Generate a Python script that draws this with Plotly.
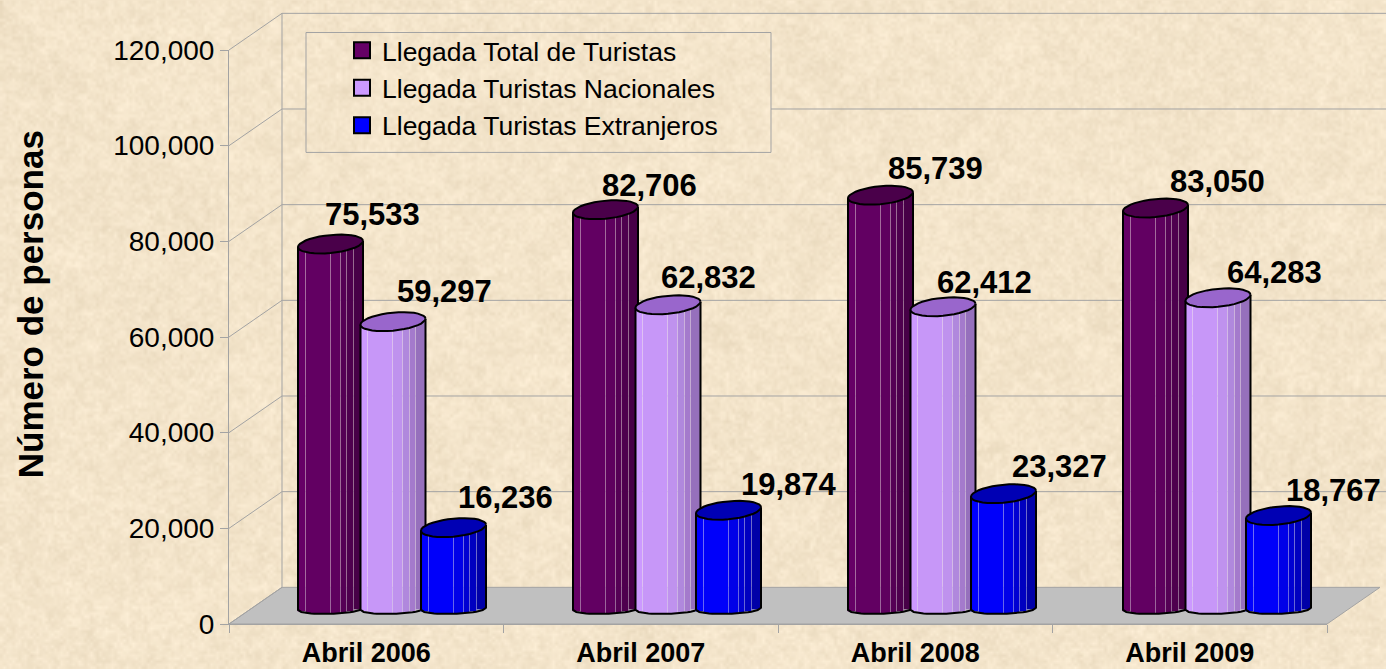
import base64, math, struct, zlib
import numpy as np
import plotly.graph_objects as go

# ---------- data ----------
categories = ["Abril 2006", "Abril 2007", "Abril 2008", "Abril 2009"]
total_turistas = [75533, 82706, 85739, 83050]
nacionales = [59297, 62832, 62412, 64283]
extranjeros = [16236, 19874, 23327, 18767]
series_names = ["Llegada Total de Turistas", "Llegada Turistas Nacionales", "Llegada Turistas Extranjeros"]
y_ticks = [0, 20000, 40000, 60000, 80000, 100000, 120000]
y_title = "Número de personas"

# ---------- style ----------
W, H = 1386, 669
X0, X1, Y0, Y1 = 229, 1327, 624, 49.5          # front plot box in pixels
DX, DY = 53, 36.7                               # depth of the 3-D box
PX_PER_UNIT = (Y0 - Y1) / 120000
GROUP_PX = 275
FIRST_GROUP_PX = 391
BASE_PX = 605.3
BAR_PX = 65
SERIES_OFF_PX = [-60.5, 2, 62.5]
FACET_EDGES = [0, .12, .5, .66, .76, .86, 1]
FACET_COLORS = [
    ["#660066", "#620062", "#5E005E", "#550055", "#4E004E", "#470047"],
    ["#CC99FF", "#C797F8", "#BF92EE", "#B088DD", "#A47ACC", "#9670BC"],
    ["#0000FF", "#0000FA", "#0000E8", "#0000D2", "#0000C0", "#0000A8"],
]
CAP_COLORS = ["#4A004A", "#9966CC", "#0000B4"]
LEGEND_COLORS = ["#660066", "#CC99FF", "#0000FF"]
GRID = "#A3A3A3"
FONT = "Liberation Sans, Arial, sans-serif"
# label shift from the bar-top centre, in pixels
LABEL_SHIFT = [
    [(42, 30), (44, 24), (55, 27), (62, 27)],
    [(51, 30), (40, 27), (41, 24), (56, 25)],
    [(52, 30), (60, 26), (56, 27), (55, 25)],
]


def background_uri():
    """Soft parchment mottling, as a small PNG data URI."""
    w, h = 462, 223
    yy, xx = np.mgrid[0:h, 0:w].astype(float)
    def cells(n):
        gy, gx = np.mgrid[0:h // n + 2, 0:w // n + 2].astype(float)
        v = np.sin(gx * 12.9898 + gy * 78.233) * 43758.5453
        v = v - np.floor(v)
        fx, fy = xx / n, yy / n
        ix, iy = fx.astype(int), fy.astype(int)
        tx, ty = fx - ix, fy - iy
        return (v[iy, ix] * (1 - tx) * (1 - ty) + v[iy, ix + 1] * tx * (1 - ty)
                + v[iy + 1, ix] * (1 - tx) * ty + v[iy + 1, ix + 1] * tx * ty) - .5
    m = 0.25 * cells(12) + 0.4 * cells(5) + 0.7 * cells(2) + 0.8 * cells(1)
    base = np.array([244, 229, 203], float)
    img = base[None, None, :] + m[..., None] * np.array([12, 13, 15], float)
    img = np.clip(img, 0, 255).astype(np.uint8)
    raw = b"".join(b"\0" + img[r].tobytes() for r in range(h))
    def chunk(t, d):
        return struct.pack(">I", len(d)) + t + d + struct.pack(">I", zlib.crc32(t + d))
    png = (b"\x89PNG\r\n\x1a\n" + chunk(b"IHDR", struct.pack(">IIBBBBB", w, h, 8, 2, 0, 0, 0))
           + chunk(b"IDAT", zlib.compress(raw, 9)) + chunk(b"IEND", b""))
    return "data:image/png;base64," + base64.b64encode(png).decode()


def px(x):
    return (x - X0) / (X1 - X0)


def py(y):
    return (Y0 - y) / (Y0 - Y1)


fig = go.Figure()

# invisible traces: carry the category axis and the legend entries
for name, col in zip(series_names, LEGEND_COLORS):
    fig.add_trace(go.Scatter(x=categories, y=[None] * len(categories), mode="markers", name=name,
                             legendgroup=name, hoverinfo="skip",
                             marker=dict(symbol="square", size=16, color=col, line=dict(color="black", width=2))))

hw = BAR_PX / 2 / GROUP_PX                       # half bar width in category units
cap_h = 9 / PX_PER_UNIT                          # half height of top ellipse
shear = 3 / PX_PER_UNIT                          # tilt of ellipses
bot_h = 5 / PX_PER_UNIT
bot_off = 3.5 / PX_PER_UNIT


def bottom_curve(u):
    return -bot_off - bot_h * math.sqrt(max(0, 1 - u * u)) + shear * 0.35 * u


all_values = [total_turistas, nacionales, extranjeros]
annotations = [dict(text=y_title, xref="paper", yref="paper", x=px(30), y=py(304), textangle=-90,
                    showarrow=False, xanchor="center", yanchor="middle",
                    font=dict(family=FONT, size=35, color="black", weight="bold"))]
for s, values in enumerate(all_values):
    axis_n = s + 2
    xa, ya = f"x{axis_n}", f"y{axis_n}"
    off = SERIES_OFF_PX[s] / GROUP_PX
    idx = list(range(len(values)))
    for k in range(len(FACET_COLORS[s])):
        e0, e1 = FACET_EDGES[k], FACET_EDGES[k + 1]
        um = e0 + e1 - 1                          # facet centre in -1..1
        base = [bottom_curve(um)] * len(values)
        tops = [v + shear * um for v in values]
        fig.add_trace(go.Bar(
            x=idx, y=[t - b for t, b in zip(tops, base)], base=base, xaxis=xa, yaxis=ya,
            offset=off - hw + 2 * hw * e0, width=2 * hw * (e1 - e0), showlegend=False, hoverinfo="skip",
            marker=dict(color=FACET_COLORS[s][k], line=dict(color="rgba(255,255,255,.2)", width=1))))
    # silhouette and cap of every cylinder
    ox, oy, cx, cy = [], [], [], []
    for i, v in zip(idx, values):
        c = i + off
        us = [-1 + 2 * j / 20 for j in range(21)]
        ox += [c - hw] + [c + hw * u for u in us] + [c + hw, None]
        oy += [v - shear] + [bottom_curve(u) for u in us] + [v + shear, None]
        for j in range(37):
            t = 2 * math.pi * j / 36
            cx.append(c + hw * math.cos(t))
            cy.append(v + cap_h * math.sin(t) + shear * math.cos(t))
        cx.append(None)
        cy.append(None)
        dx_, dy_ = LABEL_SHIFT[s][i]
        annotations.append(dict(x=c, y=v, xref=xa, yref=ya, text=f"{v:,}", showarrow=False,
                                xshift=dx_, yshift=dy_, font=dict(family=FONT, size=31, color="black", weight="bold")))
    fig.add_trace(go.Scatter(x=ox, y=oy, xaxis=xa, yaxis=ya, mode="lines", showlegend=False, hoverinfo="skip",
                             line=dict(color="black", width=2)))
    fig.add_trace(go.Scatter(x=cx, y=cy, xaxis=xa, yaxis=ya, mode="lines", fill="toself", fillcolor=CAP_COLORS[s],
                             showlegend=False, hoverinfo="skip", line=dict(color="black", width=2)))

# ---------- 3-D box ----------
shapes = []


def line(x0, y0, x1, y1):
    shapes.append(dict(type="line", xref="paper", yref="paper", x0=px(x0), y0=py(y0), x1=px(x1), y1=py(y1),
                       line=dict(color=GRID, width=1), layer="below"))


LEG = (306, 771, 32, 152)
shapes.append(dict(type="path", xref="paper", yref="paper", layer="below", fillcolor="#C0C0C0",
                   line=dict(color=GRID, width=1),
                   path=f"M{px(X0)},{py(Y0)}L{px(X0 + DX)},{py(Y0 - DY)}L{px(X1 + DX)},{py(Y0 - DY)}L{px(X1)},{py(Y0)}Z"))
for t in y_ticks:
    yf = Y0 - t * PX_PER_UNIT
    yb = yf - DY
    line(X0, yf, X0 + DX, yb)
    if t:
        if LEG[2] < yb < LEG[3]:
            line(X0 + DX, yb, LEG[0], yb)
            line(LEG[1], yb, W, yb)
        else:
            line(X0 + DX, yb, W, yb)
line(X0 + DX, Y1 - DY, X0 + DX, Y0 - DY)
shapes.append(dict(type="rect", xref="paper", yref="paper", layer="below", x0=px(LEG[0]), x1=px(LEG[1]),
                   y0=py(LEG[3]), y1=py(LEG[2]), line=dict(color=GRID, width=1)))

# ---------- layout ----------
overlay_x = dict(range=[(X0 - FIRST_GROUP_PX) / GROUP_PX, (X1 - FIRST_GROUP_PX) / GROUP_PX],
                 visible=False, overlaying="x", fixedrange=True)
low = -(Y0 - BASE_PX) / PX_PER_UNIT
overlay_y = dict(range=[low, low + 120000], visible=False, overlaying="y", fixedrange=True)

fig.update_layout(
    width=W, height=H, autosize=False,
    margin=dict(l=X0, r=W - X1, t=Y1, b=H - Y0, pad=0, autoexpand=False),
    paper_bgcolor="#F4E5CB", plot_bgcolor="rgba(0,0,0,0)",
    barmode="overlay", bargap=0,
    font=dict(family=FONT, color="black"),
    images=[dict(source=background_uri(), xref="paper", yref="paper", x=px(0), y=py(0), sizex=W / (X1 - X0),
                 sizey=H / (Y0 - Y1), sizing="stretch", xanchor="left", yanchor="top", layer="below")],
    shapes=shapes,
    annotations=annotations,
    xaxis=dict(type="category", categoryorder="array", categoryarray=categories, range=[-.5, 3.5],
               tickson="boundaries", ticks="outside", ticklen=8, tickcolor=GRID, tickwidth=1,
               showline=True, linecolor=GRID, showgrid=False, zeroline=False, fixedrange=True,
               ticklabelstandoff=5, automargin=False,
               tickfont=dict(family=FONT, size=27, color="black", weight="bold")),
    yaxis=dict(range=[0, 120000], tickvals=y_ticks, tickformat=",", ticks="outside", ticklen=8, tickcolor=GRID,
               tickwidth=1, showline=True, linecolor=GRID, showgrid=False, zeroline=False, fixedrange=True,
               automargin=False,
               tickfont=dict(family=FONT, size=28, color="black")),
    xaxis2=dict(overlay_x), yaxis2=dict(overlay_y),
    xaxis3=dict(overlay_x), yaxis3=dict(overlay_y),
    xaxis4=dict(overlay_x), yaxis4=dict(overlay_y),
    legend=dict(x=px(342), y=py(26), xanchor="left", yanchor="top", bgcolor="rgba(0,0,0,0)", borderwidth=0,
                font=dict(family=FONT, size=26.5, color="black"), tracegroupgap=0, itemclick=False,
                itemdoubleclick=False),
)

fig.write_html("out.html", config=dict(displayModeBar=False),
               post_script="document.body.style.margin='0';document.documentElement.style.overflow='hidden';")
